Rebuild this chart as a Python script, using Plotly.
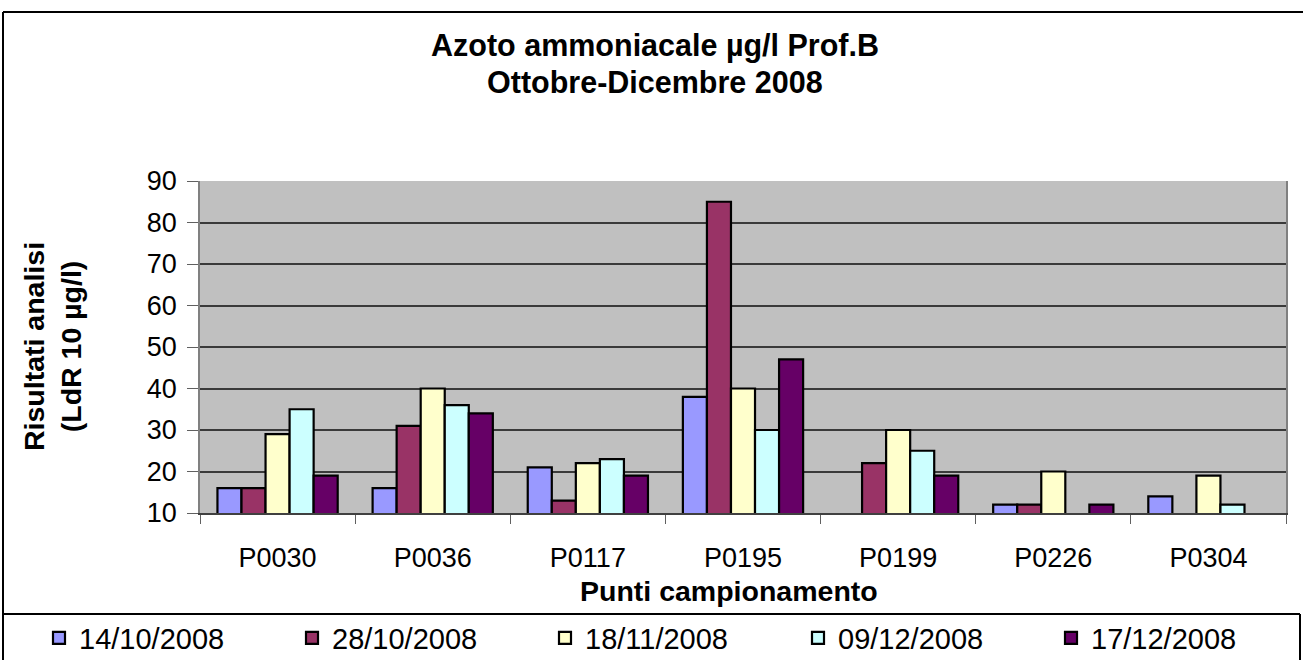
import plotly.graph_objects as go

categories = ["P0030", "P0036", "P0117", "P0195", "P0199", "P0226", "P0304"]
series_names = ["14/10/2008", "28/10/2008", "18/11/2008", "09/12/2008", "17/12/2008"]
s_14_10 = [16, 16, 21, 38, None, 12, 14]
s_28_10 = [16, 31, 13, 85, 22, 12, None]
s_18_11 = [29, 40, 22, 40, 30, 20, 19]
s_09_12 = [35, 36, 23, 30, 25, None, 12]
s_17_12 = [19, 34, 19, 47, 19, 12, None]
series_values = [s_14_10, s_28_10, s_18_11, s_09_12, s_17_12]
colors = ["#9999FF", "#993366", "#FFFFCC", "#CCFFFF", "#660066"]
y_ticks = [10, 20, 30, 40, 50, 60, 70, 80, 90]

FONT = "Liberation Sans, Arial, sans-serif"
W, H = 1303, 660
L, R, T, B = 200, 1286, 181, 513

def px_x(p):
    return (p - L) / (R - L)

def px_y(p):
    return (B - p) / (B - T)

fig = go.Figure()
for name, vals, col in zip(series_names, series_values, colors):
    fig.add_trace(go.Bar(
        x=categories, y=vals, name=name,
        marker=dict(color=col, line=dict(color="black", width=2.2)),
    ))

fig.update_layout(
    width=W, height=H,
    margin=dict(l=L, r=W - R, t=T, b=H - B, autoexpand=False),
    paper_bgcolor="white", plot_bgcolor="#C0C0C0",
    barmode="group", bargap=0.225, bargroupgap=0,
    font=dict(family=FONT, color="black", size=27),
    showlegend=True,
    legend=dict(
        orientation="h", xref="paper", yref="paper",
        x=px_x(39), xanchor="left", y=px_y(638), yanchor="middle",
        entrywidth=208, entrywidthmode="pixels",
        font=dict(family=FONT, size=29, color="black"),
        bgcolor="rgba(0,0,0,0)", traceorder="normal",
    ),
    xaxis=dict(
        type="category", tickson="boundaries", ticks="outside", ticklen=9,
        tickcolor="#606060", showline=True, linecolor="#404040", linewidth=1.5,
        showgrid=False, tickfont=dict(size=27), ticklabelstandoff=20,
    ),
    yaxis=dict(
        range=[10, 90], tickvals=y_ticks, ticks="outside", ticklen=11,
        tickcolor="#606060", showline=True, linecolor="#808080", linewidth=1.5,
        mirror=True, showgrid=True, gridcolor="#3a3a3a", gridwidth=1.5,
        zeroline=False, tickfont=dict(size=27), ticklabelstandoff=5,
    ),
)

# title (two lines)
fig.add_annotation(
    text="<b>Azoto ammoniacale µg/l Prof.B</b>",
    xref="paper", yref="paper", x=px_x(655), y=px_y(45),
    xanchor="center", yanchor="middle", showarrow=False,
    font=dict(family=FONT, size=30.5, color="black"),
)
fig.add_annotation(
    text="<b>Ottobre-Dicembre 2008</b>",
    xref="paper", yref="paper", x=px_x(655), y=px_y(82),
    xanchor="center", yanchor="middle", showarrow=False,
    font=dict(family=FONT, size=30.5, color="black"),
)
fig.add_annotation(
    text="<b>Risultati analisi<br>(LdR 10 µg/l)</b>", textangle=-90,
    xref="paper", yref="paper", x=px_x(52), y=0.5,
    xanchor="center", yanchor="middle", showarrow=False,
    font=dict(family=FONT, size=28.5, color="black"),
)
fig.add_annotation(
    text="<b>Punti campionamento</b>",
    xref="paper", yref="paper", x=px_x(729), y=px_y(591),
    xanchor="center", yanchor="middle", showarrow=False,
    font=dict(family=FONT, size=28.5, color="black"),
)

# chart frame and legend box
line = dict(color="black", width=2)
fig.add_shape(type="line", xref="paper", yref="paper",
              x0=px_x(3), x1=px_x(1310), y0=px_y(12), y1=px_y(12), line=line)
fig.add_shape(type="line", xref="paper", yref="paper",
              x0=px_x(3), x1=px_x(3), y0=px_y(12), y1=px_y(670), line=line)
fig.add_shape(type="line", xref="paper", yref="paper",
              x0=px_x(3), x1=px_x(1300), y0=px_y(614), y1=px_y(614), line=line)
fig.add_shape(type="line", xref="paper", yref="paper",
              x0=px_x(1300), x1=px_x(1300), y0=px_y(614), y1=px_y(670), line=line)

fig.write_html("out.html", config={"displayModeBar": False},
               post_script="document.body.style.margin='0';")
